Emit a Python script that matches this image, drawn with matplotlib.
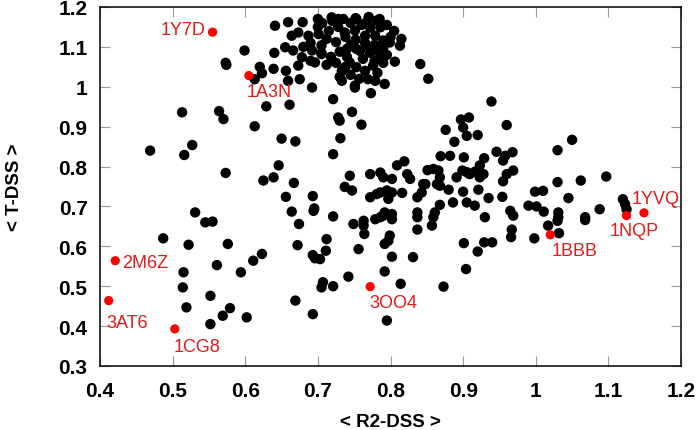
import matplotlib
matplotlib.use("Agg")
import matplotlib.pyplot as plt

# --- Veri: siyah noktalar (< R2-DSS >, < T-DSS >) ---
r2_dss = [
    0.599, 0.573, 0.574, 0.513, 0.564, 0.570, 0.469, 0.516, 0.527, 0.573,
    0.641, 0.659, 0.679, 0.706, 0.719, 0.728, 0.664, 0.673, 0.687, 0.701,
    0.655, 0.666, 0.640, 0.678, 0.692, 0.705, 0.705, 0.673, 0.696, 0.712,
    0.620, 0.639, 0.656, 0.623, 0.613, 0.659, 0.675, 0.692, 0.733, 0.751,
    0.769, 0.779, 0.792, 0.773, 0.721, 0.629, 0.661, 0.613, 0.728, 0.730,
    0.747, 0.760, 0.650, 0.669, 0.731, 0.721, 0.646, 0.625, 0.639, 0.667,
    0.744, 0.772, 0.786, 0.790, 0.802, 0.737,
    0.735, 0.753, 0.767, 0.781, 0.786, 0.737, 0.751, 0.765, 0.779, 0.790,
    0.799, 0.815, 0.813, 0.740, 0.753, 0.767, 0.786, 0.806, 0.841, 0.852,
    0.744, 0.753, 0.776, 0.733, 0.751, 0.939, 0.876, 0.897, 0.908, 0.900,
    0.905, 0.920, 0.888, 0.960, 1.050, 1.030, 1.097, 1.062, 1.030, 1.045,
    1.088, 1.120, 1.123, 1.125, 1.010, 0.999, 0.990, 1.001, 1.011, 1.031,
    1.068, 0.946, 0.958, 0.968, 0.955, 0.929, 0.901, 0.882, 0.869, 0.819,
    0.809, 0.851, 0.899, 0.905, 0.916, 0.923, 0.928, 0.969, 0.960, 0.955,
    0.823, 0.827, 0.747, 0.772, 0.786, 0.795, 0.802, 0.797, 0.816, 0.837,
    0.843, 0.848, 0.868, 0.880, 0.900, 0.921, 0.935, 0.954, 0.868, 0.886,
    0.905, 0.916, 0.965, 0.969,
    0.749, 0.763, 0.763, 0.764, 0.779, 0.786, 0.792, 0.802, 0.802, 0.799,
    0.797, 0.792, 0.756, 0.802, 0.831, 0.792, 0.742, 0.814, 0.873, 0.795,
    0.837, 0.837, 0.837, 0.861, 0.859, 0.857, 0.901, 0.920, 0.929, 0.940,
    0.904, 0.930, 0.967, 0.966, 0.998, 1.017, 1.031, 1.030, 1.032, 1.068,
    0.531, 0.545, 0.555, 0.487, 0.522, 0.576, 0.623, 0.611, 0.561, 0.594,
    0.515, 0.514, 0.552, 0.519, 0.579, 0.569, 0.602, 0.552, 0.664, 0.694,
    0.721, 0.674, 0.672, 0.712, 0.711, 0.693, 0.696, 0.703, 0.707, 0.705,
    0.721, 0.669, 0.693, 0.656, 0.693, 0.695, 0.781, 0.790,
    0.859, 0.866, 0.868, 0.864, 0.845, 0.891, 0.909, 0.921, 0.923,
    0.745, 0.760, 0.772, 0.728, 0.715, 0.738, 0.752, 0.765, 0.778, 0.790,
    0.725, 0.712, 0.745, 0.758, 0.772, 0.785, 0.795, 0.730, 0.718, 0.740,
    0.762, 0.778, 0.790, 0.725, 0.738, 0.765, 0.782, 0.745, 0.700, 0.690,
    0.680, 0.705, 0.690, 0.730, 0.757, 0.800, 0.805, 0.795, 0.785, 0.770,
    0.752, 0.720, 0.700,
]
t_dss = [
    1.091, 1.060, 1.055, 0.936, 0.939, 0.919, 0.840, 0.829, 0.854, 0.784,
    1.153, 1.162, 1.162, 1.160, 1.174, 1.170, 1.128, 1.136, 1.128, 1.132,
    1.099, 1.091, 1.085, 1.074, 1.091, 1.104, 1.082, 1.053, 1.061, 1.055,
    1.050, 1.045, 1.040, 1.034, 1.019, 1.015, 1.019, 0.998, 1.015, 1.003,
    1.019, 1.015, 1.007, 0.984, 0.969, 0.951, 0.955, 0.901, 0.923, 0.915,
    0.937, 0.905, 0.870, 0.863, 0.871, 0.831, 0.803, 0.765, 0.773, 0.759,
    0.777, 0.781, 0.785, 0.773, 0.769, 0.749,
    1.170, 1.170, 1.162, 1.166, 1.149, 1.136, 1.141, 1.128, 1.128, 1.116,
    1.111, 1.120, 1.103, 1.095, 1.095, 1.103, 1.078, 1.063, 1.057, 1.020,
    1.061, 1.049, 1.053, 1.040, 0.998, 0.963, 0.892, 0.918, 0.923, 0.898,
    0.877, 0.879, 0.862, 0.904, 0.867, 0.841, 0.775, 0.765, 0.761, 0.721,
    0.693, 0.718, 0.706, 0.693, 0.739, 0.737, 0.702, 0.700, 0.687, 0.685,
    0.673, 0.837, 0.827, 0.836, 0.815, 0.821, 0.823, 0.827, 0.826, 0.813,
    0.803, 0.791, 0.790, 0.786, 0.787, 0.803, 0.781, 0.790, 0.781, 0.763,
    0.781, 0.769, 0.740, 0.723, 0.735, 0.740, 0.735, 0.719, 0.734, 0.723,
    0.735, 0.756, 0.752, 0.742, 0.737, 0.742, 0.721, 0.724, 0.704, 0.710,
    0.710, 0.702, 0.689, 0.677,
    0.656, 0.664, 0.652, 0.631, 0.668, 0.673, 0.685, 0.681, 0.668, 0.627,
    0.614, 0.606, 0.593, 0.574, 0.573, 0.537, 0.524, 0.506, 0.499, 0.414,
    0.685, 0.673, 0.642, 0.685, 0.673, 0.652, 0.608, 0.587, 0.610, 0.610,
    0.543, 0.673, 0.642, 0.623, 0.620, 0.652, 0.673, 0.664, 0.633, 0.666,
    0.685, 0.660, 0.662, 0.620, 0.604, 0.606, 0.581, 0.564, 0.553, 0.535,
    0.535, 0.497, 0.476, 0.447, 0.445, 0.426, 0.422, 0.405, 0.687, 0.689,
    0.675, 0.656, 0.603, 0.618, 0.589, 0.578, 0.570, 0.568, 0.510, 0.497,
    0.500, 0.464, 0.430, 0.724, 0.726, 0.695, 0.731, 0.677,
    0.794, 0.790, 0.773, 0.756, 0.756, 0.773, 0.781, 0.790, 0.773,
    1.160, 1.155, 1.148, 1.150, 1.140, 1.125, 1.118, 1.110, 1.105, 1.098,
    1.112, 1.120, 1.105, 1.090, 1.085, 1.088, 1.080, 1.088, 1.075, 1.075,
    1.070, 1.065, 1.060, 1.060, 1.050, 1.040, 1.035, 1.030, 1.150, 1.110,
    1.100, 1.085, 1.065, 1.025, 1.020, 1.125, 1.140, 1.155, 1.170, 1.175,
    1.172, 1.165, 1.170,
]

# --- Veri: işaretli proteinler (kırmızı) ---
marked_ids = ["1Y7D", "1A3N", "2M6Z", "3AT6", "1CG8", "3OO4", "1BBB", "1NQP", "1YVQ"]
marked_r2 = [0.555, 0.605, 0.421, 0.412, 0.503, 0.772, 1.020, 1.125, 1.149]
marked_t = [1.137, 1.028, 0.564, 0.464, 0.393, 0.499, 0.629, 0.677, 0.684]

x_ticks = [0.4, 0.5, 0.6, 0.7, 0.8, 0.9, 1.0, 1.1, 1.2]
y_ticks = [0.3, 0.4, 0.5, 0.6, 0.7, 0.8, 0.9, 1.0, 1.1, 1.2]

# --- Grafik ---
plt.rcParams["font.family"] = ["Liberation Sans", "DejaVu Sans"]

fig = plt.figure(figsize=(6.99, 4.31), dpi=100)
ax = fig.add_axes([100 / 699, 64 / 431, 581 / 699, 359 / 431])

ax.scatter(r2_dss, t_dss, s=56, color="black", edgecolors="none", zorder=2)
ax.scatter(marked_r2, marked_t, s=44, color="#ff0000", edgecolors="none", zorder=3)

# etiket yerleşimi (piksel ofseti, hizalama)
label_pos = {
    "1Y7D": (-7, 3, "right"),
    "1A3N": (-2, -16, "left"),
    "2M6Z": (7, -2, "left"),
    "3AT6": (-2, -22, "left"),
    "1CG8": (-1, -18, "left"),
    "3OO4": (-1, -16, "left"),
    "1BBB": (1, -16, "left"),
    "1NQP": (8, -15, "center"),
    "1YVQ": (12, 14, "center"),
}
for name, x, y in zip(marked_ids, marked_r2, marked_t):
    dx, dy, ha = label_pos[name]
    ax.annotate(name, (x, y), xytext=(dx, dy), textcoords="offset pixels",
                ha=ha, va="center", color="#e31a1c", fontsize=13, zorder=4)

ax.set_xlim(0.4, 1.2)
ax.set_ylim(0.3, 1.2)
ax.set_xticks(x_ticks)
ax.set_yticks(y_ticks)
ax.set_xticklabels([f"{v:g}" for v in x_ticks], fontweight="bold", fontsize=15)
ax.set_yticklabels([f"{v:g}" for v in y_ticks], fontweight="bold", fontsize=15)
ax.tick_params(direction="in", length=7, width=0.8, color="#999999",
               top=True, right=True)
ax.tick_params(axis="x", pad=11)
ax.tick_params(axis="y", pad=9)

for s in ax.spines.values():
    s.set_linewidth(1.1)
    s.set_color("black")

ax.set_xlabel("< R2-DSS >", fontweight="bold", fontsize=13.5, va="center")
ax.set_ylabel("< T-DSS >", fontweight="bold", fontsize=13.5, va="center")
ax.xaxis.set_label_coords(0.5, -56 / 359)
ax.yaxis.set_label_coords(-86 / 581, 0.5)

fig.savefig("out.png", dpi=100)
